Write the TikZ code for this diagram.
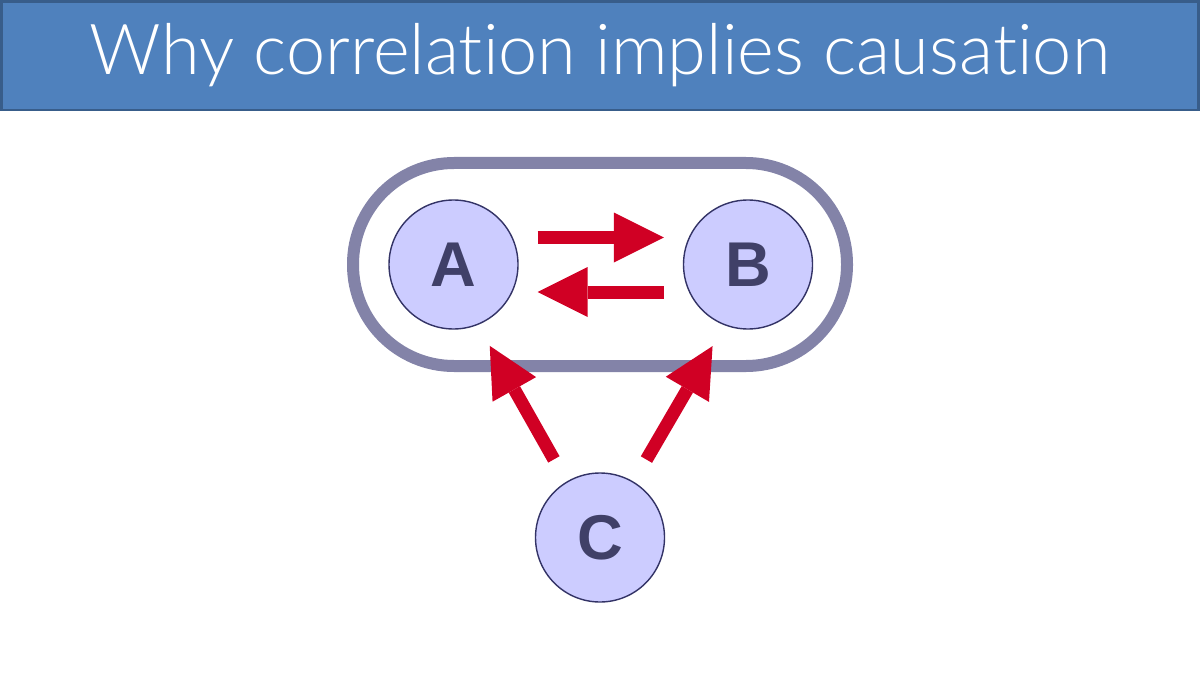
\documentclass[tikz,border=0pt]{standalone}
\usepackage{fontspec}
\setmainfont{Liberation Sans}
\newfontfamily\thinfont[Ligatures=NoCommon]{Lato Light}
\usetikzlibrary{arrows.meta}
\usetikzlibrary{positioning}
\definecolor{mblue}{HTML}{4F81BD}
\definecolor{mdarkblue}{HTML}{385D8A}
\definecolor{mgray}{HTML}{8383A8}
\definecolor{mlilac}{HTML}{CCCCFF}
\definecolor{mnavy}{HTML}{333366}
\definecolor{mletter}{HTML}{404068}
\definecolor{mred}{HTML}{D00024}
\tikzset{var/.style = {circle, draw=mnavy, line width=0.8pt, fill=mlilac,
                       minimum size=2.58cm, inner sep=0, text=mletter,
                       font=\fontsize{36}{40}\selectfont\bfseries}}
\tikzset{cause/.style = {draw=mred, line width=0.26cm,
                         -{Triangle[length=1cm, width=1cm, line width=0pt]}}}

\begin{document}
\begin{tikzpicture}
  \useasboundingbox (0,0) rectangle (24,13.5);
  \draw [fill=mblue, draw=mdarkblue, line width=0.05cm] (0.03,11.3) rectangle (23.97,13.47);
  \node (title) [text=white, font=\thinfont\fontsize{40}{48}\selectfont, anchor=base] at (12,12.0)
    {Why correlation implies causation};

  \draw [mgray, line width=0.24cm, rounded corners=2.02cm] (7.06,6.18) rectangle (16.94,10.24);

  \node (A) [var] at (9.07,8.21) {A};
  \node (B) [var] at (14.96,8.21) {B};
  \node (C) [var] at (12,2.75) {C};

  \draw [cause] ([shift={(0.38,0.54)}]A.east) -- ([shift={(-0.38,0.54)}]B.west);
  \draw [cause] ([shift={(-0.38,-0.55)}]B.west) -- ([shift={(0.38,-0.55)}]A.east);
  \draw [cause, shorten <=0.51cm, shorten >=0.48cm] (C.121) -- (A.-68.5);
  \draw [cause, shorten <=0.51cm, shorten >=0.48cm] (C.59) -- (B.-111.5);
\end{tikzpicture}
\end{document}
